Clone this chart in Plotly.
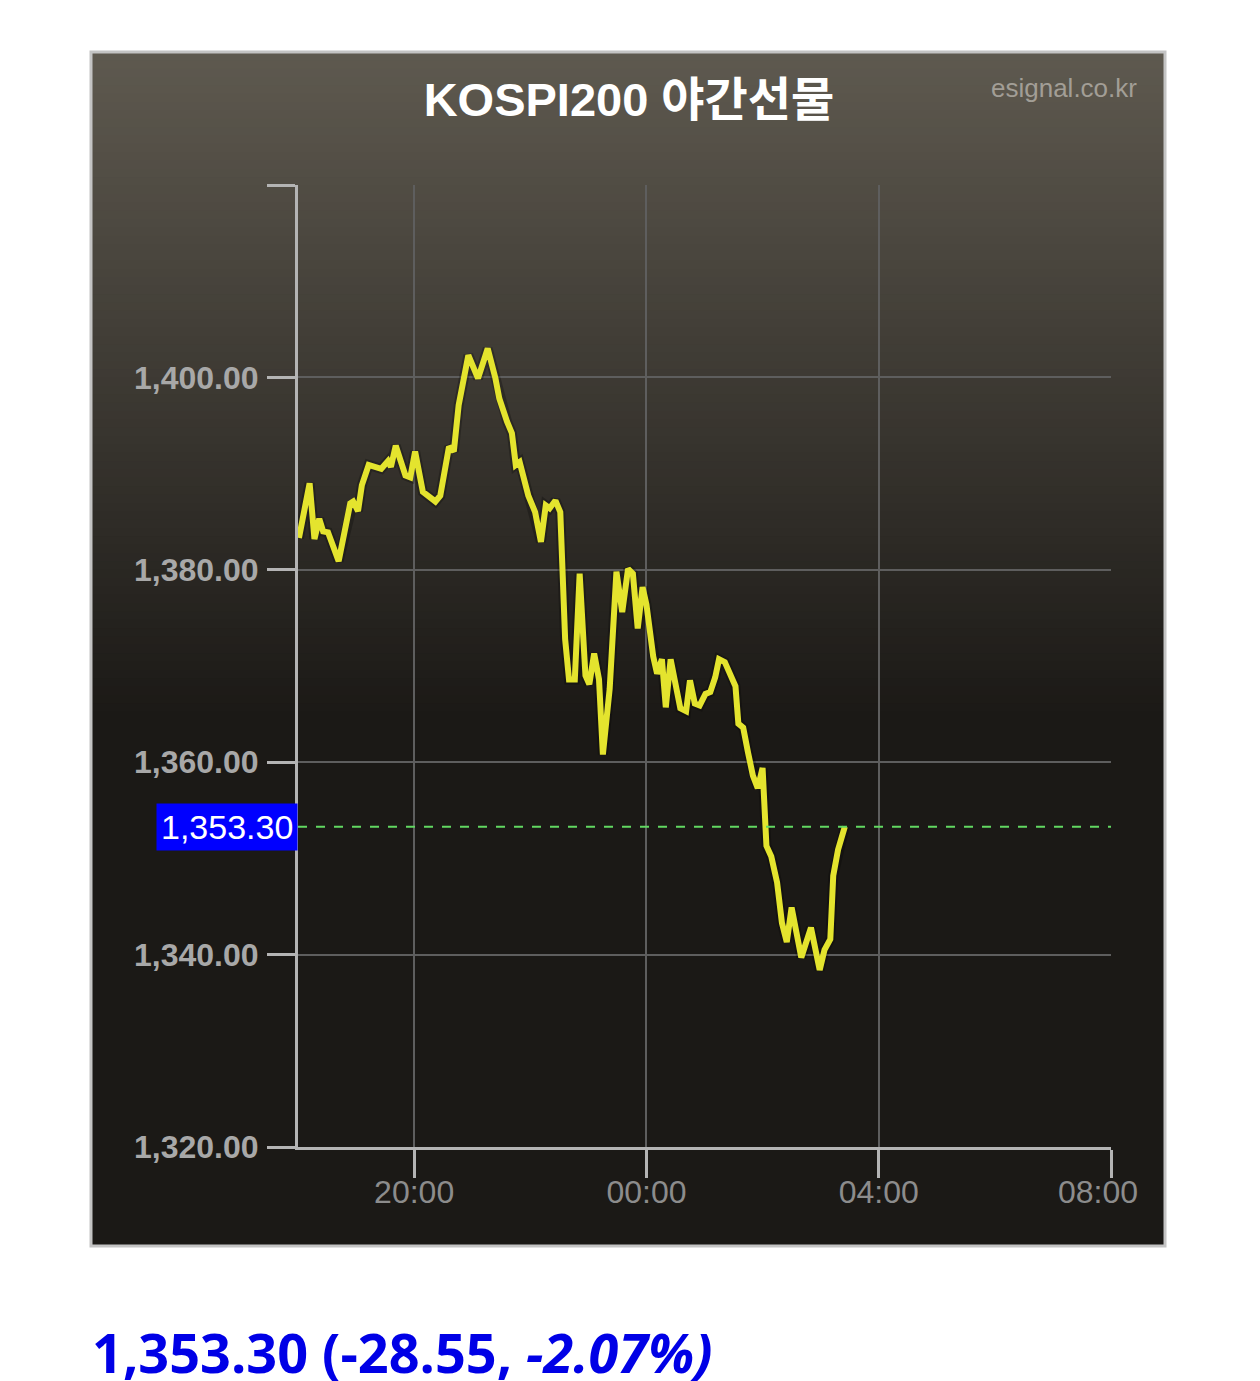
import plotly.graph_objects as go
import pandas as pd

# ---------------- data ----------------
times = ["18:01", "18:12", "18:17", "18:22", "18:26", "18:31", "18:42", "18:54", "18:57", "19:02",
         "19:06", "19:13", "19:26", "19:33", "19:36", "19:41", "19:51", "19:56", "20:01", "20:09",
         "20:22", "20:27", "20:36", "20:41", "20:46", "20:56", "21:06", "21:16", "21:24", "21:28",
         "21:36", "21:41", "21:45", "21:49", "21:58", "22:05", "22:11", "22:16", "22:20", "22:26",
         "22:31", "22:36", "22:40", "22:46", "22:51", "22:57", "23:01", "23:06", "23:11", "23:15",
         "23:22", "23:29", "23:35", "23:41", "23:46", "23:51", "23:56", "00:00", "00:07", "00:11",
         "00:16", "00:20", "00:25", "00:31", "00:35", "00:41", "00:45", "00:50", "00:55", "01:01",
         "01:06", "01:11", "01:15", "01:21", "01:26", "01:32", "01:35", "01:40", "01:45", "01:50",
         "01:55", "02:00", "02:04", "02:09", "02:15", "02:20", "02:25", "02:30", "02:35", "02:40",
         "02:50", "02:56", "02:59", "03:04", "03:10", "03:13", "03:18", "03:25"]
prices = [1383.3, 1389.0, 1383.2, 1385.3, 1384.0, 1383.9, 1380.9, 1386.9, 1387.1, 1386.1,
          1388.8, 1390.9, 1390.5, 1391.3, 1390.7, 1392.9, 1389.8, 1389.6, 1392.3, 1388.1,
          1387.1, 1387.7, 1392.8, 1392.3, 1397.1, 1402.3, 1399.9, 1403.0, 1399.9, 1397.8,
          1395.4, 1394.2, 1390.9, 1391.2, 1387.7, 1386.0, 1382.9, 1386.7, 1386.4, 1387.2,
          1386.0, 1372.8, 1368.6, 1368.6, 1379.6, 1369.0, 1368.1, 1371.3, 1368.6, 1360.8,
          1367.6, 1379.8, 1375.6, 1380.1, 1379.6, 1373.9, 1378.2, 1376.4, 1371.0, 1369.2,
          1370.7, 1365.7, 1370.7, 1367.6, 1365.6, 1365.3, 1368.5, 1366.1, 1365.9, 1367.1,
          1367.3, 1368.8, 1370.7, 1370.4, 1369.3, 1367.9, 1364.0, 1363.6, 1361.0, 1358.6,
          1357.3, 1359.4, 1351.3, 1350.2, 1347.5, 1343.3, 1341.3, 1344.9, 1342.3, 1339.7,
          1342.8, 1340.2, 1338.4, 1340.5, 1341.6, 1348.2, 1350.9, 1353.3]

y_ticks = [1320, 1340, 1360, 1380, 1400, 1420]
y_ticktext = ["1,320.00", "1,340.00", "1,360.00", "1,380.00", "1,400.00", ""]
x_ticks = ["20:00", "00:00", "04:00", "08:00"]
session_start, session_end = "18:00", "08:00"

last_price = 1353.30
change = -28.55
change_pct = -2.07
title_text = "KOSPI200 야간선물"
source_text = "esignal.co.kr"

DAY1, DAY2 = "2025-01-01", "2025-01-02"


def to_dt(hm):
    h = int(hm.split(":")[0])
    return pd.Timestamp(f"{DAY1 if h >= 12 else DAY2} {hm}")


x_dt = [to_dt(t) for t in times]

# ---------------- layout geometry ----------------
W, H = 1260, 1381
L, R, T, B = 298, 149, 185, 234
PW, PH = W - L - R, H - T - B


def px(p):
    return (p - L) / PW


def py(p):
    return 1 - (p - T) / PH


fig = go.Figure()

# background box gradient (overlapping strips, each reaching the box bottom -> no seams)
shapes = []
top, grad_end, bottom = 52, 720, 1246
c0 = (94, 89, 79)
c1 = (27, 25, 22)
n = 80
for i in range(n):
    y0 = top + (grad_end - top) * i / n
    f = i / (n - 1)
    c = tuple(int(round(c0[k] + (c1[k] - c0[k]) * f)) for k in range(3))
    shapes.append(dict(type="rect", xref="paper", yref="paper", x0=px(91), x1=px(1165),
                       y0=py(bottom), y1=py(y0), fillcolor=f"rgb{c}", line_width=0, layer="below"))
# border
shapes.append(dict(type="rect", xref="paper", yref="paper", x0=px(91), x1=px(1165),
                   y0=py(bottom), y1=py(top), fillcolor="rgba(0,0,0,0)",
                   line=dict(color="#c4c4c4", width=3), layer="above"))
# last price dashed line
shapes.append(dict(type="line", xref="paper", yref="y", x0=0, x1=1, y0=last_price, y1=last_price,
                   line=dict(color="#62d862", width=2, dash="dash"), layer="above"))

fig.add_trace(go.Scatter(x=x_dt, y=prices, mode="lines",
                         line=dict(color="rgba(0,0,0,0.25)", width=10), hoverinfo="skip", showlegend=False))
fig.add_trace(go.Scatter(x=x_dt, y=prices, mode="lines",
                         line=dict(color="#e4e42e", width=6), showlegend=False))

annotations = [
    dict(xref="paper", yref="y", x=0, y=last_price, xanchor="right", yanchor="middle",
         text=f"{last_price:,.2f}", showarrow=False, bgcolor="#0000ff", borderpad=4,
         font=dict(family="Liberation Sans, Arial", size=34, color="white")),
    dict(xref="paper", yref="paper", x=px(1139), y=py(88), xanchor="right", yanchor="middle",
         text=source_text, showarrow=False,
         font=dict(family="Liberation Sans, Arial", size=26, color="#a29e96")),
    dict(xref="paper", yref="paper", x=px(90), y=py(1352), xanchor="left", yanchor="middle",
         text=f"{last_price:,.2f} ({change:.2f}, <i>{change_pct:.2f}%)</i>", showarrow=False,
         font=dict(family="Open Sans, Noto Sans", size=54, color="#0000e6", weight="bold")),
    # last x tick label sits slightly inside the box in the reference
    dict(xref="x", yref="paper", x=to_dt(x_ticks[-1]), y=py(1192), xanchor="center", yanchor="middle",
         xshift=-13, text=x_ticks[-1], showarrow=False,
         font=dict(family="Liberation Sans, Arial", size=32, color="#8c8c8c")),
]

fig.update_layout(
    width=W, height=H,
    margin=dict(l=L, r=R, t=T, b=B, pad=0),
    paper_bgcolor="white",
    plot_bgcolor="rgba(0,0,0,0)",
    title=dict(text=title_text, x=629 / W, y=1 - 100 / H, xanchor="center", yanchor="middle",
               font=dict(family="Liberation Sans, Arial, Noto Sans CJK KR", size=47, color="white",
                         weight="bold")),
    shapes=shapes,
    annotations=annotations,
    xaxis=dict(
        type="date",
        range=[to_dt(session_start), to_dt(session_end)],
        tickvals=[to_dt(t) for t in x_ticks],
        ticktext=x_ticks[:-1] + [""],
        showgrid=True, gridcolor="#5e5e5e", gridwidth=2,
        showline=True, linecolor="#b4b4b4", linewidth=3,
        ticks="outside", ticklen=28, tickwidth=3, tickcolor="#b4b4b4",
        ticklabelstandoff=-13,
        tickfont=dict(family="Liberation Sans, Arial", size=32, color="#8c8c8c"),
        zeroline=False, fixedrange=True,
    ),
    yaxis=dict(
        range=[1320, 1420],
        tickvals=y_ticks, ticktext=y_ticktext,
        showgrid=True, gridcolor="#5e5e5e", gridwidth=2,
        showline=True, linecolor="#b4b4b4", linewidth=3,
        ticks="outside", ticklen=28, tickwidth=3, tickcolor="#b4b4b4",
        ticklabelstandoff=2,
        tickfont=dict(family="Liberation Sans, Arial", size=32, color="#a8a8a8", weight="bold"),
        zeroline=False, fixedrange=True,
    ),
)

fig.write_html("out.html")
